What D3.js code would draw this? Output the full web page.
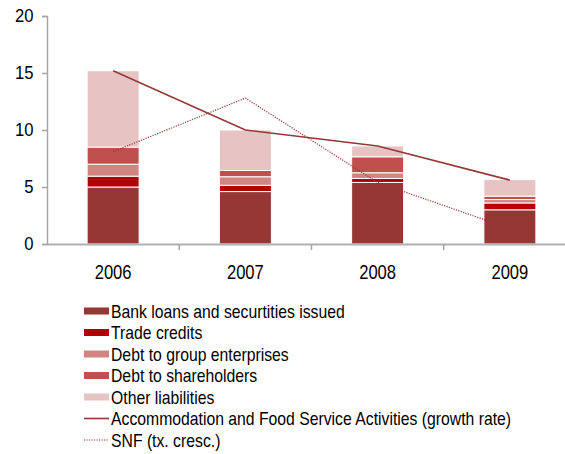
<!DOCTYPE html>
<html>
<head>
<meta charset="utf-8">
<script src="https://cdn.jsdelivr.net/npm/d3@7"></script>
<style>
  html, body { margin: 0; padding: 0; background: #fff; }
  svg { display: block; }
  text { font-family: "Liberation Sans", Arial, sans-serif; fill: #000; }
</style>
</head>
<body>
<svg id="chart" width="565" height="454"></svg>
<script>
// Years on the horizontal axis
const years = ["2006", "2007", "2008", "2009"];

// Stacked liability components (percentage points)
const bankLoans    = [5.0, 4.6, 5.4, 3.0];
const tradeCredits = [0.95, 0.55, 0.35, 0.6];
const debtGroup    = [1.05, 0.75, 0.5, 0.3];
const debtShare    = [1.5, 0.55, 1.4, 0.3];
const otherLiab    = [6.7, 3.55, 0.95, 1.45];

// Growth-rate lines
const accommodation = [15.2, 10.0, 8.6, 5.6];
const snf           = [8.1, 12.8, 5.4, 1.35];

const yTicks = [0, 5, 10, 15, 20];

const seriesNames = [
  "Bank loans and securtities issued",
  "Trade credits",
  "Debt to group enterprises",
  "Debt to shareholders",
  "Other liabilities"
];
const seriesColors = ["#953735", "#b30000", "#d08583", "#c0504d", "#e6c4c4"];
const lineColor = "#953735";

// Horizontal condensing applied to text (narrow sans look)
const narrow = 0.83;

const svg = d3.select("#chart");
const margin = { left: 47, top: 16, bottom: 244 };

const x = d3.scaleBand().domain(years).range([margin.left, 576]).paddingInner(0).paddingOuter(0);
const y = d3.scaleLinear().domain([0, 20]).range([margin.bottom, margin.top]);

// Build stacked rows
const rows = years.map((yr, i) => ({
  year: yr,
  s0: bankLoans[i], s1: tradeCredits[i], s2: debtGroup[i], s3: debtShare[i], s4: otherLiab[i]
}));
const stack = d3.stack().keys(["s0", "s1", "s2", "s3", "s4"])(rows);

const barW = 52;
svg.append("g").selectAll("g")
  .data(stack)
  .join("g")
  .attr("fill", (d, i) => seriesColors[i])
  .selectAll("rect")
  .data(d => d)
  .join("rect")
  .attr("x", d => x(d.data.year) + x.bandwidth() / 2 - barW / 2)
  .attr("width", barW)
  .attr("y", d => y(d[1]))
  .attr("height", d => y(d[0]) - y(d[1]))
  .attr("stroke", "#fff")
  .attr("stroke-width", 1);

// Y axis
const yAxis = svg.append("g")
  .attr("transform", `translate(${margin.left},0)`)
  .call(d3.axisLeft(y).tickValues(yTicks).tickSize(5).tickPadding(10));
yAxis.select(".domain").attr("stroke", "#a6a6a6").attr("stroke-width", 1.5);
yAxis.selectAll(".tick line").attr("stroke", "#a6a6a6").attr("stroke-width", 1.5);
yAxis.selectAll(".tick text")
  .style("font-size", "18.5px")
  .attr("transform", "scale(0.9,1)");

// X axis
const xAxis = svg.append("g")
  .attr("transform", `translate(0,${margin.bottom})`)
  .call(d3.axisBottom(x).tickSize(0).tickPadding(21));
xAxis.select(".domain").attr("stroke", "#b0b0b0").attr("stroke-width", 2);
xAxis.selectAll(".tick text")
  .style("font-size", "20px")
  .attr("transform", `scale(${narrow},1)`);
// Boundary ticks between categories
xAxis.selectAll(".bnd")
  .data(years.slice(1))
  .join("line")
  .attr("class", "bnd")
  .attr("x1", d => x(d)).attr("x2", d => x(d))
  .attr("y1", 0).attr("y2", 6)
  .attr("stroke", "#a6a6a6").attr("stroke-width", 1.5);

// Lines
const line = d3.line()
  .x((d, i) => x(years[i]) + x.bandwidth() / 2)
  .y(d => y(d));

svg.append("path")
  .datum(accommodation)
  .attr("d", line)
  .attr("fill", "none")
  .attr("stroke", lineColor)
  .attr("stroke-width", 1.6);

svg.append("path")
  .datum(snf)
  .attr("d", line)
  .attr("fill", "none")
  .attr("stroke", lineColor)
  .attr("stroke-width", 1.2)
  .attr("stroke-dasharray", "1.2,1.3");

// Legend
const legend = svg.append("g").attr("transform", "translate(84,311)");
const rowH = 21.5;
const legendItems = seriesNames.map((n, i) => ({ name: n, type: "rect", color: seriesColors[i] }))
  .concat([
    { name: "Accommodation and Food Service Activities (growth rate)", type: "line" },
    { name: "SNF (tx. cresc.)", type: "dot" }
  ]);

const li = legend.selectAll("g")
  .data(legendItems)
  .join("g")
  .attr("transform", (d, i) => `translate(0,${i * rowH})`);

li.filter(d => d.type === "rect")
  .append("rect")
  .attr("x", 0).attr("y", -3.5).attr("width", 25).attr("height", 7)
  .attr("fill", d => d.color);

li.filter(d => d.type === "line")
  .append("line")
  .attr("x1", 0).attr("x2", 25).attr("y1", 0).attr("y2", 0)
  .attr("stroke", lineColor).attr("stroke-width", 1.6);

li.filter(d => d.type === "dot")
  .append("line")
  .attr("x1", 0).attr("x2", 25).attr("y1", 0).attr("y2", 0)
  .attr("stroke", lineColor).attr("stroke-width", 1.2)
  .attr("stroke-dasharray", "1.2,1.3");

li.append("text")
  .attr("transform", `translate(27,0) scale(${narrow},1)`)
  .attr("dy", "0.35em")
  .style("font-size", "19px")
  .text(d => d.name);
</script>
</body>
</html>
